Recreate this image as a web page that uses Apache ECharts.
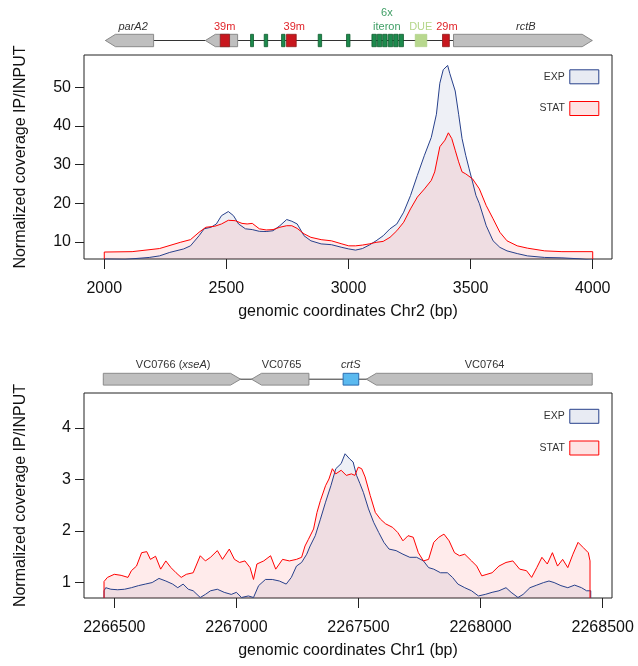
<!DOCTYPE html>
<html><head><meta charset="utf-8">
<script src="https://cdn.jsdelivr.net/npm/echarts@6/dist/echarts.min.js"></script>
<style>html,body{margin:0;padding:0;background:#fff}#c{width:638px;height:666px}</style>
</head><body><div id="c"></div><script>
// ---------------- DATA ----------------
// Top panel (Chr2) tick labels
const topXTicks = [2000, 2500, 3000, 3500, 4000];
const topYTicks = [10, 20, 30, 40, 50];
// Bottom panel (Chr1) tick labels
const botXTicks = [2266500, 2267000, 2267500, 2268000, 2268500];
const botYTicks = [1, 2, 3, 4];

// Top panel, STAT
const topStatX = [2000,2114,2226,2311,2353,2388,2416,2452,2480,2508,2536,2564,2585,2606,2635,2663,2691,2719,2747,2768,2790,2818,2846,2888,2930,2973,3001,3029,3057,3085,3113,3142,3170,3198,3226,3254,3282,3311,3339,3353,3374,3395,3409,3423,3437,3451,3465,3480,3508,3536,3564,3592,3620,3649,3691,3733,3803,3874,4000];
const topStatY = [7.4,7.5,8.3,9.9,10.6,12.5,13.8,14.05,14.65,15.6,15.5,14.8,14.65,14.8,13.4,13.1,13.2,13.8,14.2,14.2,13.5,12.1,11.2,10.6,10.3,9.5,9.0,9.0,9.2,9.5,9.9,10.15,11.2,12.9,15.1,18.55,21.6,23.7,25.9,28.1,34.6,36.3,38.2,36.7,33.7,30.7,28.1,27.6,26.3,23.7,19.4,16.0,12.5,10.3,9.0,8.4,7.7,7.5,7.5];
// Top panel, EXP
const topExpX = [2000,2085,2184,2226,2268,2325,2353,2388,2409,2437,2459,2480,2508,2529,2550,2578,2606,2635,2663,2691,2719,2747,2768,2790,2818,2846,2888,2930,2973,3001,3029,3057,3085,3113,3142,3170,3198,3226,3254,3282,3311,3339,3360,3374,3388,3406,3415,3423,3437,3451,3465,3480,3494,3508,3522,3536,3564,3592,3620,3649,3691,3733,3803,3874,3944,4000];
const topExpY = [5.3,5.5,6.0,6.4,7.3,8.2,9.0,11.6,13.4,13.8,14.65,16.8,17.86,16.8,14.65,13.4,13.2,12.75,12.7,12.9,14.2,15.8,15.35,14.65,11.6,10.3,9.5,9.3,8.6,8.2,7.9,8.3,9.2,10.3,11.6,13.4,14.65,17.7,22.0,27.2,32.4,37.0,43.0,51.0,54.5,55.6,53.5,54.0,49.0,43.0,36.7,32.4,28.9,25.5,22.0,19.9,14.2,10.3,8.6,7.7,7.0,6.4,6.0,5.9,5.65,5.3];

// Bottom panel, STAT
const botStatX = [2266458,2266472,2266500,2266528,2266556,2266570,2266591,2266612,2266633,2266648,2266669,2266690,2266711,2266732,2266753,2266774,2266795,2266823,2266852,2266873,2266894,2266922,2266943,2266971,2266992,2267013,2267035,2267056,2267070,2267084,2267112,2267140,2267161,2267189,2267217,2267246,2267267,2267281,2267295,2267316,2267330,2267344,2267365,2267379,2267393,2267407,2267429,2267450,2267471,2267485,2267499,2267513,2267527,2267548,2267569,2267590,2267611,2267640,2267661,2267682,2267703,2267724,2267745,2267766,2267787,2267808,2267829,2267850,2267871,2267893,2267914,2267935,2267963,2267984,2268005,2268026,2268047,2268075,2268104,2268132,2268160,2268188,2268209,2268230,2268251,2268273,2268294,2268315,2268336,2268357,2268378,2268399,2268420,2268441,2268448];
const botStatY = [1.02,1.10,1.16,1.14,1.10,1.23,1.32,1.58,1.60,1.45,1.51,1.26,1.42,1.29,1.19,1.10,1.16,1.19,1.52,1.42,1.49,1.62,1.45,1.65,1.45,1.39,1.42,1.29,1.06,1.36,1.42,1.52,1.26,1.45,1.42,1.45,1.49,1.71,1.84,2.04,2.36,2.59,2.88,3.01,3.21,3.11,3.18,3.08,3.11,3.08,3.24,3.21,3.05,2.69,2.36,2.23,2.14,2.07,1.97,1.81,1.91,1.88,1.58,1.42,1.45,1.78,1.88,1.94,1.81,1.58,1.52,1.55,1.42,1.32,1.13,1.16,1.19,1.32,1.39,1.42,1.26,1.23,1.10,1.29,1.49,1.36,1.58,1.32,1.45,1.29,1.55,1.78,1.68,1.58,1.42];
// Bottom panel, EXP
const botExpX = [2266458,2266465,2266486,2266514,2266542,2266570,2266599,2266627,2266655,2266683,2266711,2266739,2266760,2266782,2266803,2266823,2266852,2266873,2266894,2266922,2266950,2266979,2267000,2267021,2267049,2267070,2267091,2267119,2267147,2267176,2267204,2267225,2267246,2267267,2267288,2267302,2267323,2267344,2267365,2267387,2267407,2267429,2267445,2267464,2267478,2267492,2267506,2267520,2267541,2267562,2267583,2267604,2267625,2267654,2267682,2267710,2267738,2267766,2267787,2267808,2267836,2267864,2267885,2267907,2267935,2267963,2267991,2268019,2268047,2268075,2268104,2268125,2268153,2268174,2268202,2268230,2268258,2268280,2268301,2268329,2268357,2268385,2268413,2268434,2268451];
const botExpY = [0.84,0.90,0.87,0.86,0.87,0.90,0.94,0.97,1.00,1.08,1.03,0.97,0.90,0.97,0.87,0.84,0.71,0.77,0.84,0.87,0.81,0.77,0.81,0.71,0.74,0.71,0.94,1.06,1.06,1.03,0.97,1.10,1.32,1.39,1.55,1.71,1.91,2.23,2.56,2.88,3.21,3.31,3.50,3.40,3.34,3.08,2.92,2.75,2.43,2.17,1.97,1.78,1.65,1.62,1.55,1.49,1.49,1.42,1.29,1.26,1.19,1.19,1.10,0.97,0.90,0.84,0.74,0.77,0.81,0.84,0.90,0.81,0.71,0.77,0.90,0.95,1.00,1.03,1.00,0.94,0.90,0.95,0.90,0.84,0.84];

// Gene track, Chr2 (features: start, end, kind)
const topFeatStart = [2005,2414,2475,2599,2655,2726,2746,2876,2992,3096,3118,3140,3163,3185,3207,3273,3385,3430];
const topFeatEnd   = [2202,2546,2513,2611,2669,2740,2786,2890,3006,3114,3136,3158,3181,3203,3225,3321,3413,3998];
const topFeatKind  = ['geneL','geneL','site','green','green','green','site','green','green','green','green','green','green','green','green','due','site','geneR'];
const topTrackSpan = [2005, 3998];
const topLabelText = ['{i|parA2}','39m','39m','6x\niteron','DUE','29m','{i|rctB}'];
const topLabelPos  = [2118,2493,2778,3157,3296,3403,3726];
const topLabelKind = ['gene','site','site','iteron','due','site','gene'];

// Gene track, Chr1
const botFeatStart = [2266455,2267062,2267437,2267532];
const botFeatEnd   = [2267017,2267297,2267501,2268457];
const botFeatKind  = ['geneR','geneL','crts','geneL'];
const botTrackSpan = [2266455, 2268457];
const botLabelText = ['VC0766 ({i|xseA})','VC0765','{i|crtS}','VC0764'];
const botLabelPos  = [2266741,2267185,2267468,2268016];
const botLabelKind = ['gene','gene','gene','gene'];

const seriesNames = ['EXP','STAT'];

// ---------------- STYLE / LAYOUT ----------------
const FONT = '"Liberation Sans", Arial, Helvetica, sans-serif';
const EXP_LINE = '#27408B', EXP_FILL = 'rgba(39,64,139,0.11)';
const STAT_LINE = '#FF0000', STAT_FILL = 'rgba(255,0,0,0.11)';
const TOP_X = [1917, 4079], TOP_Y = [5.6, 58.3];
const BOT_X = [2266376, 2268538], BOT_Y = [0.70, 4.68];

const boxStyles = {
  site:  {fill:'#c8171e', stroke:'#8e1b1b', lineWidth:0.8},
  green: {fill:'#1d8a4d', stroke:'#0e5a2c', lineWidth:0.8},
  due:   {fill:'#b8d88e', stroke:'#a6c97a', lineWidth:0.5},
  crts:  {fill:'#5ab9ef', stroke:'#2b6cb0', lineWidth:1}
};
const labelColors = {gene:'#333333', site:'#e0252b', iteron:'#3f9e65', due:'#b5d68a'};

function pairs(xs, ys){ return xs.map((x,i)=>[x, ys[i]]); }
function closed(xs, ys, base){ const d = pairs(xs, ys); d.unshift([xs[0], base]); d.push([xs[xs.length-1], base]); return d; }

function featureRenderer(kinds, halfH){
  return function(params, api){
    const i = params.dataIndex;
    const p0 = api.coord([api.value(0), 0.5]);
    const p1 = api.coord([api.value(1), 0.5]);
    const y = p0[1], h = halfH, k = kinds[i];
    if (k === 'geneL' || k === 'geneR'){
      const head = Math.min(10, p1[0]-p0[0]);
      const pts = k === 'geneR'
        ? [[p0[0],y-h],[p1[0]-head,y-h],[p1[0],y],[p1[0]-head,y+h],[p0[0],y+h]]
        : [[p0[0],y],[p0[0]+head,y-h],[p1[0],y-h],[p1[0],y+h],[p0[0]+head,y+h]];
      return {type:'polygon', shape:{points:pts}, style:{fill:'#bfbfbf', stroke:'#8a8a8a', lineWidth:1}};
    }
    return {type:'rect', shape:{x:p0[0], y:y-h, width:p1[0]-p0[0], height:2*h}, style:boxStyles[k]};
  };
}
function labelRenderer(texts, kinds, offset){
  return function(params, api){
    const i = params.dataIndex;
    const p = api.coord([api.value(0), 0.5]);
    const col = labelColors[kinds[i]];
    return {type:'text', x:p[0], y:p[1]-offset, style:{
      text:texts[i], fill:col, fontSize:11, fontFamily:FONT, lineHeight:13.4,
      align:'center', verticalAlign:'bottom',
      rich:{i:{fontStyle:'italic', fontSize:11, fontFamily:FONT, fill:col, lineHeight:13.4}}
    }};
  };
}

function mainX(grid, range, ticks, title){
  return {gridIndex:grid, type:'value', min:range[0], max:range[1],
    axisLine:{show:false}, splitLine:{show:false},
    axisTick:{show:true, length:10, customValues:ticks, lineStyle:{color:'#222', width:1}},
    axisLabel:{customValues:ticks, margin:22, fontSize:16, color:'#111', fontFamily:FONT, formatter:v=>String(v)},
    name:title, nameLocation:'middle', nameGap:45,
    nameTextStyle:{fontSize:16, color:'#111', fontFamily:FONT}};
}
function mainY(grid, range, ticks){
  return {gridIndex:grid, type:'value', min:range[0], max:range[1],
    axisLine:{show:false}, splitLine:{show:false},
    axisTick:{show:true, length:9, customValues:ticks, lineStyle:{color:'#222', width:1}},
    axisLabel:{customValues:ticks, margin:13, fontSize:16, color:'#111', fontFamily:FONT, formatter:v=>String(v)},
    name:'Normalized coverage IP/INPUT', nameLocation:'middle', nameGap:55,
    nameTextStyle:{fontSize:16, color:'#111', fontFamily:FONT}};
}
function areaSeries(name, xi, data, line, fill){
  return {name, type:'line', xAxisIndex:xi, yAxisIndex:xi, data, symbol:'none', showSymbol:false,
    lineStyle:{color:line, width:1}, itemStyle:{color:line},
    areaStyle:{color:fill, origin:'start'}, clip:true, silent:true};
}
function legendAt(top){
  return {top, right:38.7, padding:0, orient:'vertical', align:'right', icon:'rect',
    itemWidth:29, itemHeight:14, itemGap:16.7, selectedMode:false,
    textStyle:{fontSize:10.5, color:'#333', fontFamily:FONT},
    data:[{name:seriesNames[0], itemStyle:{color:'#e8ebf3', borderColor:EXP_LINE, borderWidth:1}},
          {name:seriesNames[1], itemStyle:{color:'#fde3e3', borderColor:STAT_LINE, borderWidth:1}}]};
}

const chart = echarts.init(document.getElementById('c'), null, {renderer:'canvas'});
chart.setOption({
  animation:false,
  backgroundColor:'#fff',
  grid:[
    {left:84, top:55, width:528, height:204, show:true, borderColor:'#222', borderWidth:1, backgroundColor:'transparent'},
    {left:84, top:393, width:528, height:205, show:true, borderColor:'#222', borderWidth:1, backgroundColor:'transparent'},
    {left:84, top:28.5, width:528, height:24},
    {left:84, top:367.2, width:528, height:24}
  ],
  xAxis:[
    mainX(0, TOP_X, topXTicks, 'genomic coordinates Chr2 (bp)'),
    mainX(1, BOT_X, botXTicks, 'genomic coordinates Chr1 (bp)'),
    {gridIndex:2, type:'value', min:TOP_X[0], max:TOP_X[1], show:false},
    {gridIndex:3, type:'value', min:BOT_X[0], max:BOT_X[1], show:false}
  ],
  yAxis:[
    mainY(0, TOP_Y, topYTicks),
    mainY(1, BOT_Y, botYTicks),
    {gridIndex:2, type:'value', min:0, max:1, show:false},
    {gridIndex:3, type:'value', min:0, max:1, show:false}
  ],
  legend:[legendAt(69.3), legendAt(408.8)],
  series:[
    areaSeries(seriesNames[0], 0, closed(topExpX, topExpY, TOP_Y[0]), EXP_LINE, EXP_FILL),
    areaSeries(seriesNames[1], 0, closed(topStatX, topStatY, TOP_Y[0]), STAT_LINE, STAT_FILL),
    areaSeries(seriesNames[0], 1, closed(botExpX, botExpY, BOT_Y[0]), EXP_LINE, EXP_FILL),
    areaSeries(seriesNames[1], 1, closed(botStatX, botStatY, BOT_Y[0]), STAT_LINE, STAT_FILL),
    // track backbones
    {type:'line', xAxisIndex:2, yAxisIndex:2, data:topTrackSpan.map(x=>[x,0.5]), symbol:'none', lineStyle:{color:'#333', width:1}, silent:true, z:1},
    {type:'line', xAxisIndex:3, yAxisIndex:3, data:botTrackSpan.map(x=>[x,0.5]), symbol:'none', lineStyle:{color:'#333', width:1}, silent:true, z:1},
    // features
    {type:'custom', xAxisIndex:2, yAxisIndex:2, data:topFeatStart.map((s,i)=>[s, topFeatEnd[i]]), renderItem:featureRenderer(topFeatKind, 6.2), silent:true, z:3},
    {type:'custom', xAxisIndex:3, yAxisIndex:3, data:botFeatStart.map((s,i)=>[s, botFeatEnd[i]]), renderItem:featureRenderer(botFeatKind, 5.9), silent:true, z:3},
    // labels
    {type:'custom', xAxisIndex:2, yAxisIndex:2, data:topLabelPos.map(x=>[x]), renderItem:labelRenderer(topLabelText, topLabelKind, 7.1), silent:true, z:4},
    {type:'custom', xAxisIndex:3, yAxisIndex:3, data:botLabelPos.map(x=>[x]), renderItem:labelRenderer(botLabelText, botLabelKind, 7.4), silent:true, z:4}
  ]
});
</script></body></html>
